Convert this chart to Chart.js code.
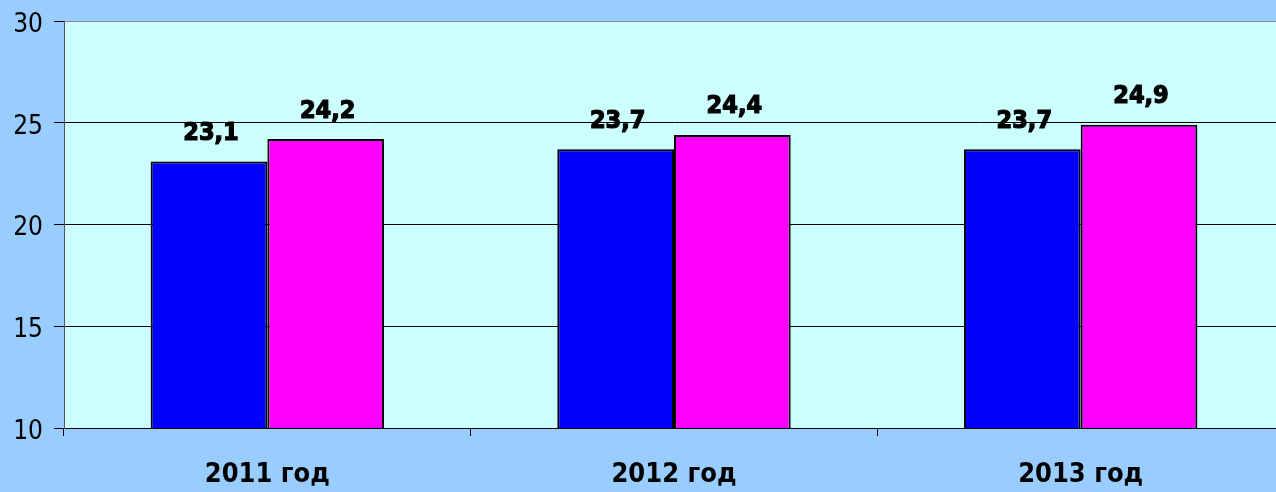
<!DOCTYPE html>
<html>
<head>
<meta charset="utf-8">
<script src="https://cdn.jsdelivr.net/npm/chart.js@4/dist/chart.umd.min.js"></script>
<style>
    html, body { margin: 0; padding: 0; overflow: hidden; background: #99ccff; }
    #wrap { width: 1284px; height: 492px; }
</style>
</head>
<body>
<div id="wrap"><canvas id="chart" width="1284" height="492"></canvas></div>
<script>
// data
const categories = ["2011 год", "2012 год", "2013 год"];
const seriesA = [23.1, 23.7, 23.7];
const seriesB = [24.2, 24.4, 24.9];
const yMin = 10, yMax = 30, yStep = 5;

const FONT = "'DejaVu Sans Condensed', 'DejaVu Sans', sans-serif";

// plot background
const plotBg = {
    id: "plotBg",
    beforeDraw(chart) {
        const { ctx, chartArea: a } = chart;
        ctx.save();
        ctx.fillStyle = "#99ccff";
        ctx.fillRect(0, 0, chart.width, chart.height);
        ctx.fillStyle = "#ccffff";
        ctx.fillRect(a.left, a.top, a.right - a.left, a.bottom - a.top);
        ctx.restore();
    }
};

// value labels above bars
const valueLabels = {
    id: "valueLabels",
    afterDatasetsDraw(chart) {
        const ctx = chart.ctx;
        ctx.save();
        ctx.font = "bold 25px " + FONT;
        ctx.textAlign = "center";
        ctx.textBaseline = "middle";
        ctx.fillStyle = "#000";
        ctx.strokeStyle = "#000";
        ctx.lineWidth = 1.2;
        chart.data.datasets.forEach((ds, i) => {
            chart.getDatasetMeta(i).data.forEach((bar, j) => {
                const txt = ds.data[j].toFixed(1).replace(".", ",");
                ctx.strokeText(txt, bar.x + 2, bar.y - 28);
                ctx.fillText(txt, bar.x + 2, bar.y - 28);
            });
        });
        ctx.restore();
    }
};

new Chart(document.getElementById("chart"), {
    type: "bar",
    data: {
        labels: categories,
        datasets: [
            {
                data: seriesA,
                backgroundColor: "#0000ff",
                borderColor: "#000",
                borderWidth: 2,
                borderSkipped: false
            },
            {
                data: seriesB,
                backgroundColor: "#ff00ff",
                borderColor: "#000",
                borderWidth: 2,
                borderSkipped: false
            }
        ]
    },
    options: {
        responsive: false,
        animation: false,
        devicePixelRatio: 1,
        layout: { padding: { top: 21, left: 0, right: 0, bottom: 0 } },
        datasets: {
            bar: { categoryPercentage: 0.574, barPercentage: 1 }
        },
        plugins: {
            legend: { display: false },
            tooltip: { enabled: false }
        },
        scales: {
            x: {
                offset: true,
                grid: {
                    offset: true,
                    drawOnChartArea: false,
                    drawTicks: true,
                    tickLength: 8,
                    color: "#000"
                },
                border: { color: "#000", width: 1 },
                ticks: {
                    color: "#000",
                    font: { family: FONT, size: 27, weight: "bold" },
                    padding: 23
                },
                afterFit(scale) {
                    scale.height = 64;
                    scale.paddingLeft = 0;
                    scale.paddingRight = 0;
                }
            },
            y: {
                min: yMin,
                max: yMax,
                ticks: {
                    stepSize: yStep,
                    color: "#000",
                    font: { family: FONT, size: 26 },
                    padding: 11,
                    labelOffset: 4
                },
                grid: {
                    color: ctx => ctx.tick && ctx.tick.value === yMax ? "#888888" : "#000",
                    tickColor: "#000",
                    tickLength: 10,
                    lineWidth: 1
                },
                border: { color: "#555", width: 1 },
                afterFit(scale) {
                    scale.width = 64;
                    scale.paddingTop = 0;
                    scale.paddingBottom = 0;
                }
            }
        }
    },
    plugins: [plotBg, valueLabels]
});
</script>
</body>
</html>
